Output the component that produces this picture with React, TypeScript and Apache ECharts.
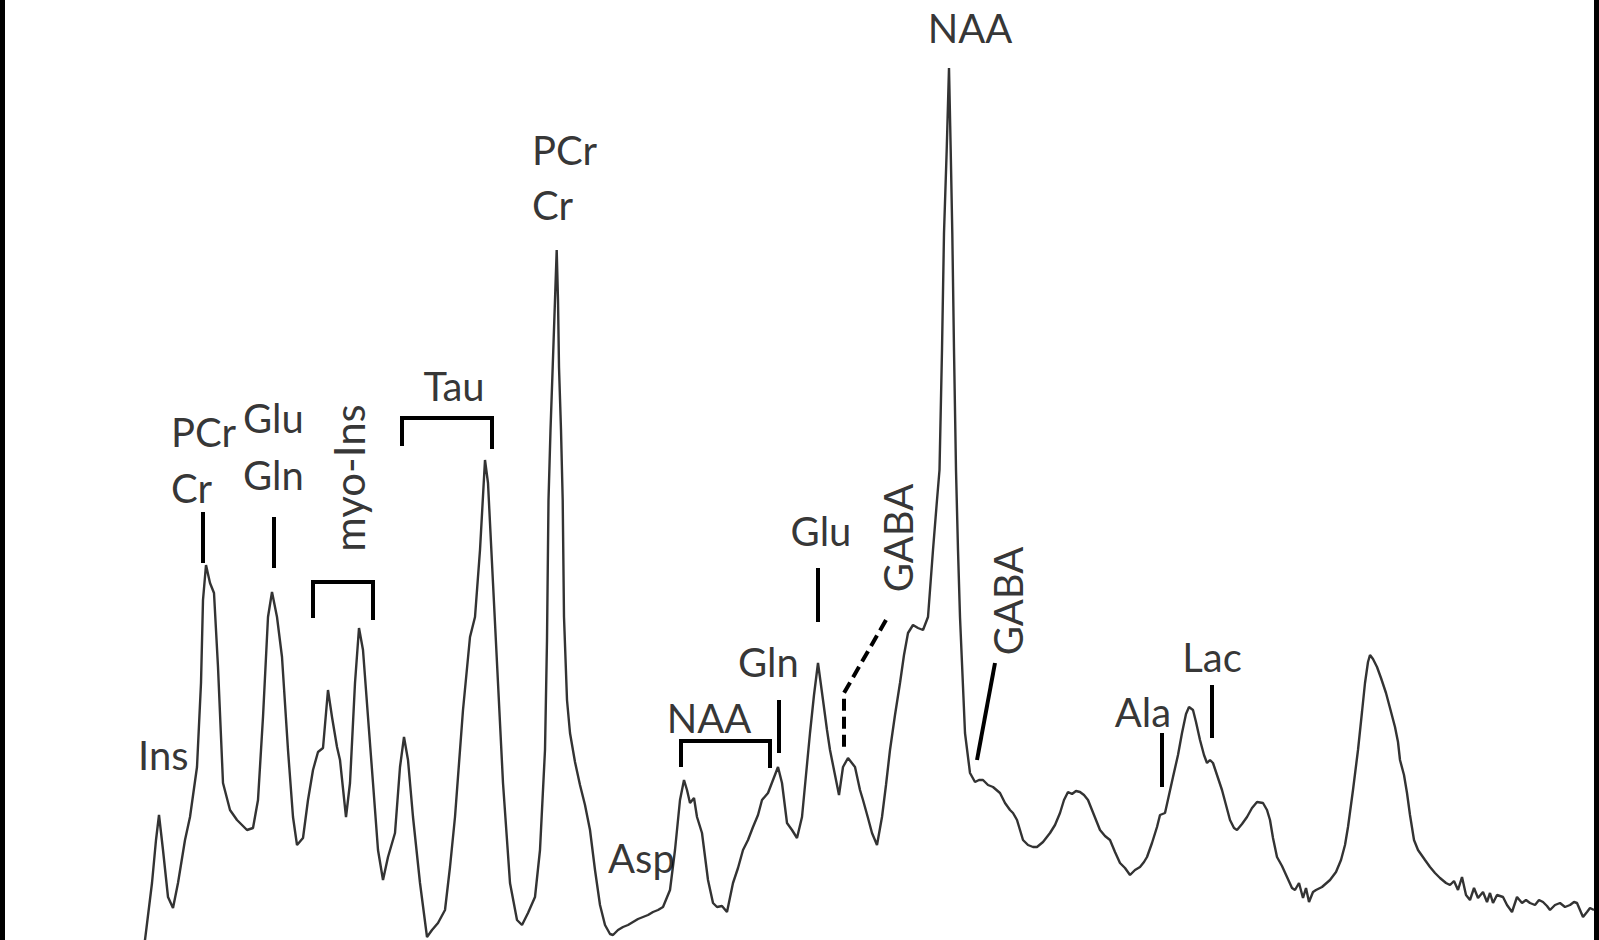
import React, { useEffect, useRef } from "react";
import * as echarts from "echarts";

// Spectrum: [chemical-shift position (a.u.), signal intensity (a.u.)]
const regionInsTau: number[][] = [
  [143, -5], [145, 0], [152, 57], [156, 100], [159, 125], [163, 90], [168, 43], [173, 32], [178, 57],
  [185, 100], [190, 123], [197, 173], [201, 257], [203, 340], [206, 375], [210, 357], [214, 347],
  [218, 273], [223, 157], [230, 130], [237, 120], [247, 110], [253, 112], [258, 140], [263, 223],
  [268, 323], [272, 348], [277, 323], [282, 283], [288, 190], [293, 123], [297, 95], [303, 102],
  [308, 140], [313, 170], [318, 188], [323, 192], [328, 250], [332, 223], [337, 193], [340, 180],
  [346, 123], [350, 157], [355, 257], [359, 312], [363, 290], [368, 223], [373, 157], [378, 90],
  [383, 60], [388, 83], [395, 107], [400, 173], [404, 203], [408, 180], [413, 123], [420, 57],
  [427, 3], [432, 10], [438, 17], [445, 30], [450, 73], [455, 123], [463, 230], [470, 303],
  [475, 323], [480, 390], [485, 480], [488, 457], [493, 357], [498, 257], [503, 157], [510, 57],
  [517, 20], [522, 15], [528, 27], [535, 43],
];
const regionCr: number[][] = [
  [540, 90], [545, 190], [547, 300], [548.5, 440], [550.5, 510], [552.7, 573], [555, 640],
  [556.7, 690], [558, 640], [559, 573], [561, 510], [562.7, 440], [564, 323], [567, 240],
  [570, 207], [575, 178], [580, 155], [585, 135], [590, 110], [595, 70], [600, 35], [605, 15],
  [610, 6], [613, 5],
];
const regionAspGlu: number[][] = [
  [618, 10], [623, 13], [628, 15], [633, 18], [638, 21], [643, 23], [648, 25], [653, 28],
  [658, 30], [663, 33], [670, 50], [675, 90], [680, 140], [684, 160], [687, 150], [690, 137],
  [694, 142], [697, 123], [702, 107], [708, 60], [713, 37], [717, 33], [722, 34], [727, 28],
  [733, 57], [738, 72], [743, 90], [748, 100], [753, 113], [758, 125], [762, 140], [768, 147],
  [773, 160], [778, 173], [782, 157], [787, 117], [792, 110], [797, 102], [802, 123], [806, 165],
  [810, 207], [814, 245], [818, 277], [823, 240], [827, 210], [830, 190], [835, 165], [839, 145],
  [843, 173], [848, 182], [855, 173], [860, 150], [863, 140], [868, 122], [872, 107], [877, 95],
  [882, 123], [886, 155], [890, 190], [895, 225], [900, 257], [904, 285], [908, 307], [913, 315],
  [918, 312], [923, 310], [928, 323],
];
const regionNAA: number[][] = [
  [933, 390], [937, 440], [939.5, 470], [942, 590], [944, 707], [946.7, 790], [949, 872],
  [950.7, 790], [952.3, 707], [954, 590], [956, 470], [958, 390], [960, 323], [965, 207],
  [970, 167], [975, 158], [979, 160], [983, 160], [988, 155], [993, 153], [1000, 147],
  [1005, 137], [1010, 130], [1013, 127], [1017, 120], [1023, 100], [1028, 95], [1033, 93],
  [1037, 93], [1043, 98], [1050, 107], [1055, 115], [1060, 127], [1064, 140], [1068, 148],
  [1072, 146], [1076, 149], [1080, 148], [1084, 145], [1088, 140], [1094, 125], [1100, 110],
  [1105, 104], [1110, 100], [1115, 88], [1120, 77], [1125, 72], [1130, 65], [1135, 70],
  [1140, 73], [1144, 78], [1147, 83], [1152, 97], [1157, 113], [1160, 125], [1165, 127],
];
const regionLac: number[][] = [
  [1169, 145], [1173, 163], [1178, 185], [1182, 207], [1186, 226], [1189, 233], [1193, 230],
  [1196, 218], [1200, 200], [1204, 185], [1207, 177], [1210, 180], [1213, 177], [1218, 162],
  [1222, 150], [1226, 135], [1230, 120], [1234, 112], [1237, 110], [1242, 116], [1247, 123],
  [1252, 132], [1257, 138], [1263, 137], [1267, 130], [1270, 120], [1273, 102], [1277, 83],
  [1282, 74], [1287, 63], [1292, 52], [1295, 50], [1299, 57], [1303, 42], [1306, 52],
  [1309, 38], [1313, 48], [1316, 50], [1322, 53], [1330, 60], [1336, 68], [1341, 80],
];
const regionTail: number[][] = [
  [1345, 95], [1348, 113], [1353, 150], [1358, 190], [1362, 228], [1365, 257], [1368, 278],
  [1370, 285], [1373, 281], [1377, 273], [1381, 262], [1386, 247], [1390, 232], [1395, 213],
  [1398, 198], [1400, 180], [1404, 165], [1407, 147], [1410, 125], [1414, 100], [1418, 90],
  [1425, 80], [1430, 73], [1435, 67], [1440, 62], [1446, 57], [1450, 55], [1454, 59],
  [1458, 50], [1462, 63], [1466, 45], [1470, 40], [1474, 52], [1478, 42], [1483, 48],
  [1487, 38], [1490, 47], [1493, 37], [1497, 45], [1503, 43], [1507, 35], [1512, 28],
  [1517, 43], [1522, 37], [1526, 40], [1530, 37], [1535, 35], [1539, 40], [1543, 38],
  [1547, 34], [1550, 30], [1555, 35], [1560, 37], [1565, 33], [1570, 35], [1574, 38],
  [1577, 37], [1580, 30], [1583, 23], [1587, 28], [1590, 32], [1594, 30],
];

// Peak assignment labels: text, position (data units), rotation, alignment, size
const labelTexts = ["NAA", "PCr", "Cr", "PCr", "Cr", "Glu", "Gln", "Ins", "myo-Ins", "Tau", "Asp", "NAA", "Gln", "Glu", "GABA", "GABA", "Ala", "Lac"];
const labelX = [970, 532, 532, 171, 171, 243, 243, 138, 349, 454, 608, 709, 738, 821, 897.5, 1008, 1143, 1212];
const labelY = [912, 790, 735, 508, 452, 522, 465, 185, 462, 554, 82, 222, 278, 409, 402, 339, 228, 283];
const labelRotate = [0, 0, 0, 0, 0, 0, 0, 0, 90, 0, 0, 0, 0, 0, 90, 90, 0, 0];
const labelAlign = ["center", "left", "left", "left", "left", "left", "left", "left", "center", "center", "left", "center", "left", "center", "center", "center", "center", "center"];
const labelSize = [40, 40, 40, 40, 40, 40, 40, 40, 42, 40, 40, 40, 40, 40, 40, 40, 40, 40];

// Assignment markers (ticks and brackets) in data units
const markerPaths: number[][][] = [
  [[203, 428], [203, 377]],
  [[274, 423], [274, 372]],
  [[313, 322], [313, 358], [373, 358], [373, 320]],
  [[402, 494], [402, 522], [492, 522], [492, 491]],
  [[681, 173], [681, 199], [770, 199], [770, 172]],
  [[779, 240], [779, 187]],
  [[818, 372], [818, 318]],
  [[995, 277], [977, 180]],
  [[1162, 207], [1162, 153]],
  [[1212, 255], [1212, 202]],
];
const dashedPaths: number[][][] = [
  [[886, 320], [844, 247], [844, 193]],
];

export default function App() {
  const ref = useRef<HTMLDivElement>(null);
  useEffect(() => {
    if (!ref.current) return;
    const chart = echarts.init(ref.current, null, { renderer: "svg" });
    const spectrum = [...regionInsTau, ...regionCr, ...regionAspGlu, ...regionNAA, ...regionLac, ...regionTail];
    const frameAxis = (position: string) => ({
      type: "value",
      min: 0,
      max: 940,
      position,
      axisLine: { show: true, onZero: false, lineStyle: { color: "#000", width: 10 } },
      axisTick: { show: false },
      axisLabel: { show: false },
      splitLine: { show: false },
    });
    chart.setOption({
      animation: false,
      backgroundColor: "#ffffff",
      grid: { left: 0, right: 0, top: 0, bottom: 0, containLabel: false },
      xAxis: { type: "value", min: 0, max: 1599, show: false },
      yAxis: [frameAxis("left"), frameAxis("right")],
      series: [
        {
          type: "line",
          data: spectrum,
          showSymbol: false,
          symbol: "none",
          clip: true,
          silent: true,
          lineStyle: { color: "#333333", width: 2.4 },
          z: 2,
        },
        {
          type: "lines",
          coordinateSystem: "cartesian2d",
          polyline: true,
          silent: true,
          z: 3,
          lineStyle: { color: "#000", width: 4, opacity: 1, cap: "butt", join: "miter" },
          data: [
            ...markerPaths.map((p) => ({ coords: p })),
            ...dashedPaths.map((p) => ({ coords: p, lineStyle: { type: [12, 6], width: 4, color: "#000", opacity: 1 } })),
          ],
        },
        {
          type: "scatter",
          symbolSize: 0,
          silent: true,
          z: 4,
          data: labelTexts.map((t, i) => ({
            value: [labelX[i], labelY[i]],
            label: {
              show: true,
              position: "inside",
              formatter: t,
              rotate: labelRotate[i],
              align: labelAlign[i],
              verticalAlign: "middle",
              fontFamily: "Lato",
              fontSize: labelSize[i],
              color: "#000",
            },
          })),
        },
      ],
    });
    return () => chart.dispose();
  }, []);
  return (
    <div
      ref={ref}
      style={{ position: "fixed", left: 0, top: 0, width: 1599, height: 940, background: "#fff" }}
    />
  );
}
